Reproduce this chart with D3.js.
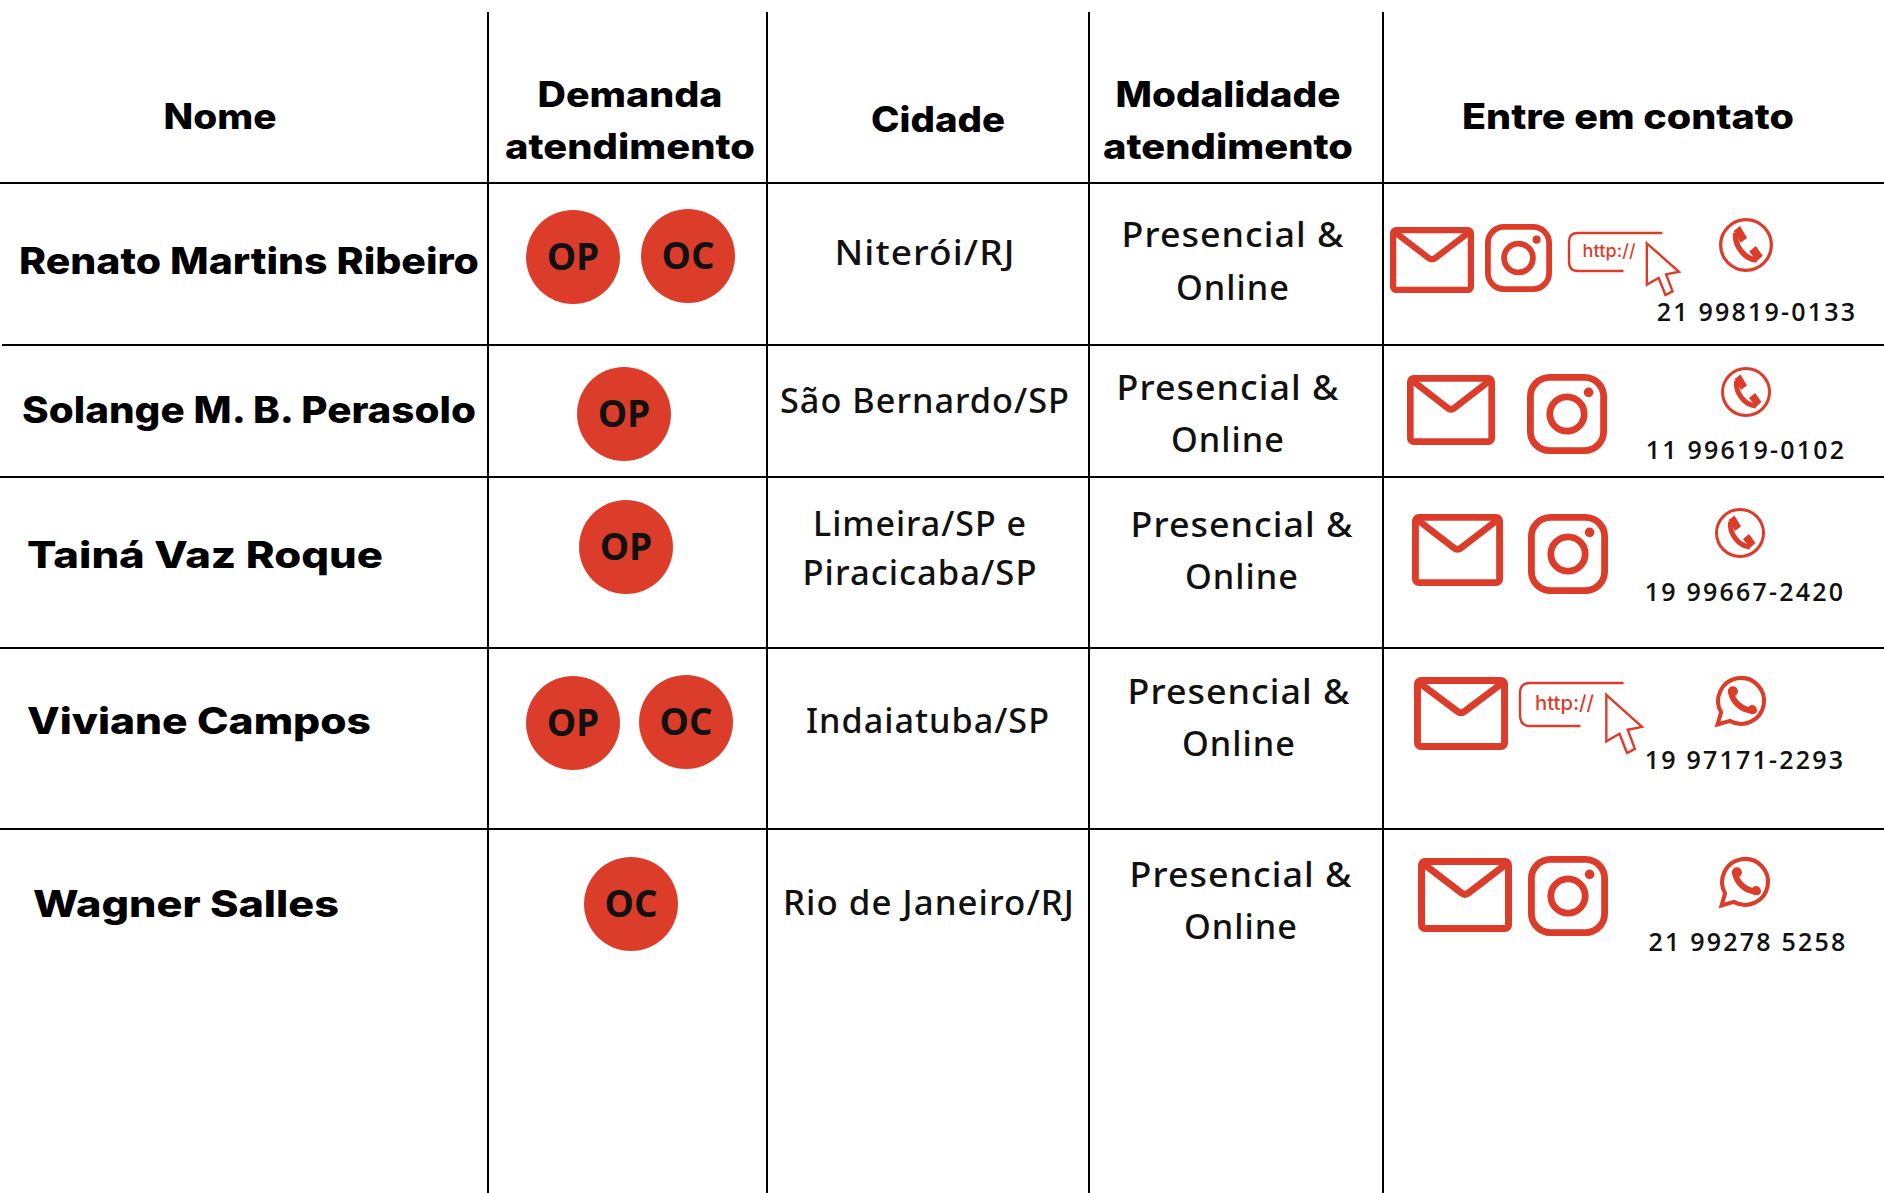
<!DOCTYPE html>
<html lang="pt">
<head>
<meta charset="utf-8">
<title>Contatos</title>
<script src="https://cdn.jsdelivr.net/npm/d3@7"></script>
<style>
  html, body { margin: 0; padding: 0; background: #fff; }
  svg { display: block; }
  .head, .name { font-family: Inter, "Noto Sans", sans-serif; font-weight: 800; fill: #000; }
  .head { font-size: 35px; }
  .name { font-size: 37px; }
  .body { font-family: "Noto Sans", "Open Sans", sans-serif; font-weight: 500; font-size: 34px; letter-spacing: 1px; fill: #111; }
  .phone { font-family: "Open Sans", sans-serif; font-weight: 600; font-size: 25px; letter-spacing: 2.2px; fill: #111; }
  .tag { font-family: "Open Sans", sans-serif; font-weight: 700; font-size: 37px; fill: #111; text-anchor: middle; }
</style>
</head>
<body>
<svg id="chart" width="1884" height="1193"></svg>
<script>
// table content
const headers = [["Nome"], ["Demanda", "atendimento"], ["Cidade"], ["Modalidade", "atendimento"], ["Entre em contato"]];
const names = ["Renato Martins Ribeiro", "Solange M. B. Perasolo", "Tainá Vaz Roque", "Viviane Campos", "Wagner Salles"];
const demands = [["OP", "OC"], ["OP"], ["OP"], ["OP", "OC"], ["OC"]];
const cities = [["Niterói/RJ"], ["São Bernardo/SP"], ["Limeira/SP e", "Piracicaba/SP"], ["Indaiatuba/SP"], ["Rio de Janeiro/RJ"]];
const modes = ["Presencial &", "Online"];
const phones = ["21 99819-0133", "11 99619-0102", "19 99667-2420", "19 97171-2293", "21 99278 5258"];
const contacts = [
  ["mail", "insta", "web", "phone"],
  ["mail", "insta", "phone"],
  ["mail", "insta", "phone"],
  ["mail", "web", "whats"],
  ["mail", "insta", "whats"]
];

// layout
const W = 1884, H = 1193, RED = "#dc3d2b";
const colEdges = [488, 767, 1089, 1383];
const rowEdges = [183, 345, 477, 648, 829];
const headX = [220, 630, 938, 1228, 1628];
const headY = [[129], [107, 159], [132], [107, 159], [129]];
const headW = [[113], [185, 250], [134], [225, 250], [332]];
const nameX = [19, 22, 27, 27, 33];
const nameY = [274, 423, 568, 734, 917];
const nameW = [460, 454, 356, 344, 306];
const tagCx = [[573, 688], [624], [626], [573, 686], [631]];
const tagCy = [[257, 256], [414], [547], [723, 722], [904]];
const cityX = [925, 925, 920, 928, 929];
const cityY = [[265], [413], [536, 585], [733], [915]];
const cityW = [[181], [290], [214, 235], [244], [292]];
const modeX = [1233, 1228, 1242, 1239, 1241];
const modeY = [[247, 300], [400, 452], [537, 589], [704, 756], [887, 939]];
const modeW = [223, 114];
const phoneX = [1757, 1746, 1745, 1745, 1748];
const phoneY = [321, 459, 601, 769, 951];
const iconBox = [
  [[1390, 227, 84, 66], [1485, 224, 67, 68], [1568, 232, 111, 63], [1719, 218, 54, 54]],
  [[1407, 375, 88, 70], [1527, 374, 80, 80], [1721, 367, 50, 50]],
  [[1412, 514, 91, 72], [1528, 514, 80, 80], [1715, 508, 50, 50]],
  [[1414, 677, 94, 73], [1519, 682, 123, 71], [1716, 675, 51, 51]],
  [[1418, 858, 94, 74], [1528, 856, 80, 80], [1720, 856, 51, 51]]
];

const svg = d3.select("#chart");

// grid
svg.append("g").selectAll("line").data(colEdges).join("line")
  .attr("x1", d => d).attr("x2", d => d).attr("y1", 12).attr("y2", H)
  .attr("stroke", "#000").attr("stroke-width", 2);
svg.append("g").selectAll("line").data(rowEdges).join("line")
  .attr("x1", (d, i) => i === 1 ? 2 : 0).attr("x2", W).attr("y1", d => d).attr("y2", d => d)
  .attr("stroke", "#000").attr("stroke-width", 2);

function lines(cls, items, adjust) {
  const sel = svg.append("g").selectAll("text").data(items).join("text")
    .attr("class", cls)
    .attr("x", d => d.x).attr("y", d => d.y)
    .attr("text-anchor", d => d.anchor || "middle")
    .text(d => d.t);
  // the original font is not installed, so lines are fitted to their measured width
  if (adjust) sel.attr("textLength", d => d.w).attr("lengthAdjust", adjust);
}

lines("head", headers.flatMap((h, c) => h.map((t, l) => ({ t, x: headX[c], y: headY[c][l], w: headW[c][l] }))), "spacingAndGlyphs");
lines("name", names.map((t, r) => ({ t, x: nameX[r], y: nameY[r], w: nameW[r], anchor: "start" })), "spacingAndGlyphs");
lines("body", cities.flatMap((c, r) => c.map((t, l) => ({ t, x: cityX[r], y: cityY[r][l], w: cityW[r][l] }))), "spacingAndGlyphs");
lines("body", names.flatMap((n, r) => modes.map((t, l) => ({ t, x: modeX[r], y: modeY[r][l], w: modeW[l] }))), "spacingAndGlyphs");
lines("phone", phones.map((t, r) => ({ t, x: phoneX[r], y: phoneY[r] })));

// OP / OC badges
const badges = demands.flatMap((d, r) => d.map((t, i) => ({ t, cx: tagCx[r][i], cy: tagCy[r][i] })));
const badge = svg.append("g").selectAll("g").data(badges).join("g")
  .attr("transform", d => `translate(${d.cx},${d.cy})`);
badge.append("circle").attr("r", 47).attr("fill", RED);
badge.append("text").attr("class", "tag").attr("y", 13).text(d => d.t);

// icons, each drawn into its w x h box
const icons = {
  mail(g, w, h) {
    const s = h * 0.095;
    g.append("rect").attr("x", s / 2).attr("y", s / 2).attr("width", w - s).attr("height", h - s).attr("rx", s / 2)
      .attr("fill", "none").attr("stroke", RED).attr("stroke-width", s);
    g.append("path").attr("d", `M${s} ${s}L${w * 0.46} ${h * 0.47}Q${w / 2} ${h * 0.51} ${w * 0.54} ${h * 0.47}L${w - s} ${s}`)
      .attr("fill", "none").attr("stroke", RED).attr("stroke-width", s);
  },
  insta(g, w, h) {
    const s = h * 0.085;
    g.append("rect").attr("x", s / 2).attr("y", s / 2).attr("width", w - s).attr("height", h - s).attr("rx", w * 0.24)
      .attr("fill", "none").attr("stroke", RED).attr("stroke-width", s);
    g.append("circle").attr("cx", w / 2).attr("cy", h / 2).attr("r", w * 0.215)
      .attr("fill", "none").attr("stroke", RED).attr("stroke-width", s);
    g.append("circle").attr("cx", w * 0.77).attr("cy", h * 0.23).attr("r", w * 0.06).attr("fill", RED);
  },
  web(g, w, h) {
    const bh = h * 0.62, bx = w * 0.85, r = bh * 0.25;
    g.append("path").attr("d", `M${bx} 1H${r}Q1 1 1 ${r}V${bh - r}Q1 ${bh} ${r} ${bh}H${w * 0.5}`)
      .attr("fill", "none").attr("stroke", RED).attr("stroke-width", 2.4);
    g.append("text").attr("x", w * 0.13).attr("y", bh * 0.64)
      .attr("font-family", "Inter, sans-serif").attr("font-weight", 500).attr("font-size", bh * 0.46).attr("fill", RED)
      .attr("textLength", w * 0.48)
      .text("http://");
    const cx = w * 0.71, cy = h * 0.18, aw = w * 0.29, ah = h * 0.82;
    const pts = [[0, 0], [1, 0.55], [0.6, 0.6], [0.8, 0.93], [0.58, 1], [0.37, 0.67], [0, 0.8]];
    g.append("polygon").attr("points", pts.map(p => [cx + p[0] * aw, cy + p[1] * ah].join(",")).join(" "))
      .attr("fill", "#fff").attr("stroke", RED).attr("stroke-width", 2.4).attr("stroke-linejoin", "miter");
  },
  phone(g, w) {
    const u = w / 100;
    g.append("circle").attr("cx", 50 * u).attr("cy", 50 * u).attr("r", 47 * u)
      .attr("fill", "none").attr("stroke", RED).attr("stroke-width", 6 * u);
    g.append("path").attr("d", `M${31 * u} ${28 * u}C${28 * u} ${50 * u} ${46 * u} ${76 * u} ${70 * u} ${78 * u}`)
      .attr("fill", "none").attr("stroke", RED).attr("stroke-width", 10 * u);
    g.append("path").attr("d", `M${27 * u} ${24 * u}L${39 * u} ${15 * u}L${52 * u} ${37 * u}L${40 * u} ${46 * u}Z`).attr("fill", RED);
    g.append("path").attr("d", `M${56 * u} ${62 * u}L${68 * u} ${52 * u}L${81 * u} ${70 * u}L${70 * u} ${80 * u}Z`).attr("fill", RED);
  },
  whats(g, w) {
    const u = w / 100;
    g.append("path").attr("d", `M${3 * u} ${97 * u}L${10 * u} ${73 * u}A${45 * u} ${45 * u} 0 1 1 ${27 * u} ${90 * u}Z`)
      .attr("fill", "none").attr("stroke", RED).attr("stroke-width", 8 * u);
    g.append("path").attr("d", `M${30 * u} ${32 * u}C${30 * u} ${50 * u} ${50 * u} ${70 * u} ${74 * u} ${70 * u}`)
      .attr("fill", "none").attr("stroke", RED).attr("stroke-width", 12 * u).attr("stroke-linecap", "round");
    g.append("circle").attr("cx", 33 * u).attr("cy", 32 * u).attr("r", 10 * u).attr("fill", RED);
    g.append("circle").attr("cx", 71 * u).attr("cy", 68 * u).attr("r", 9 * u).attr("fill", RED);
  }
};

contacts.forEach((row, r) => {
  row.forEach((kind, i) => {
    const [x, y, w, h] = iconBox[r][i];
    const g = svg.append("g").attr("transform", `translate(${x},${y})`);
    icons[kind](g, w, h);
  });
});
</script>
</body>
</html>
